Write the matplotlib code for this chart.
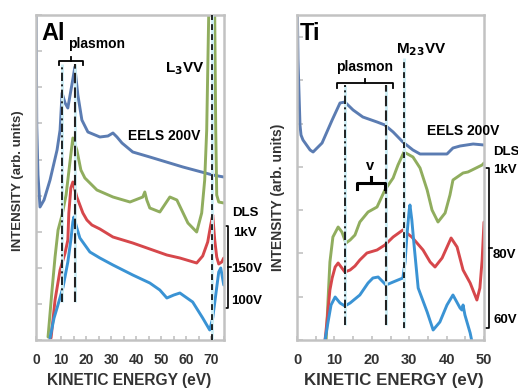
import matplotlib
matplotlib.use("Agg")
import matplotlib.pyplot as plt
import numpy as np

# ---------------- data ----------------
# Al panel
al_eels_E = [0.05, 0.3, 0.8, 1.6, 3.2, 5.6, 8.4, 9.6, 10.4, 11.6, 12.7, 14.3, 15.5, 16.7, 18.3,
             20.7, 25.5, 28.7, 30.7, 32.3, 34.3, 38.6, 45.4, 58.6, 70.5, 74.9]
al_eels_I = [345, 215, 165, 133, 140, 160, 190, 210, 247, 237, 232, 255, 273, 245, 220,
             208, 203, 204, 207, 203, 197, 188, 183, 173, 165, 163]

al_1kv_E = [4.8, 6.4, 7.6, 8.8, 10.4, 12.0, 13.5, 14.7, 16.3, 17.9, 19.5, 24.3, 30.7, 37.5,
            42.6, 43.4, 44.2, 45.4, 49.4, 53.4, 56.2, 60.6, 64.1, 66.1, 67.3, 68.1, 68.9,
            69.3, 70.9, 71.3, 71.7, 72.1, 72.9, 74.9]
al_1kv_I = [3, 50, 83, 110, 125, 145, 177, 202, 190, 170, 162, 150, 143, 138,
            143, 148, 140, 132, 128, 143, 140, 117, 108, 127, 160, 210, 325,
            360, 360, 325, 210, 145, 138, 137]

al_150_E = [6.0, 7.6, 9.6, 11.6, 12.7, 13.1, 13.9, 14.7, 16.3, 18.7, 20.3, 22.3, 25.5, 30.7,
            38.6, 45.4, 52.2, 57.4, 64.1, 66.5, 68.5, 69.7, 70.5, 71.3, 72.1, 72.9, 74.1, 74.9]
al_150_I = [2, 40, 70, 87, 100, 127, 152, 158, 143, 127, 120, 115, 111, 103,
            97, 91, 85, 82, 77, 84, 98, 115, 125, 100, 83, 76, 78, 82]

al_100_E = [5.6, 7.2, 8.4, 10.8, 12.7, 13.9, 14.7, 15.1, 16.3, 17.5, 21.5, 25.5, 30.7, 38.6,
            45.4, 49.4, 52.2, 55.0, 57.4, 62.5, 66.5, 69.3, 70.5, 71.7, 72.9, 73.7, 74.9]
al_100_I = [2, 22, 32, 53, 78, 100, 118, 123, 112, 102, 88, 82, 75, 65,
            57, 50, 42, 45, 47, 38, 22, 10, 22, 45, 68, 72, 55]

# Ti panel
ti_eels_E = [0.05, 0.27, 0.8, 1.07, 1.6, 3.5, 4.3, 6.7, 9.4, 11.5, 12.8, 15.0, 17.6, 21.4,
             23.5, 25.7, 28.3, 31.0, 32.9, 36.4, 40.1, 41.7, 43.6, 47.1, 50.0]
ti_eels_I = [345, 280, 215, 205, 200, 190, 188, 197, 220, 237, 238, 230, 223, 218,
             215, 208, 198, 190, 186, 186, 186, 192, 194, 196, 195]

ti_1kv_E = [7.8, 8.3, 8.8, 9.6, 11.0, 12.0, 13.1, 14.2, 15.5, 16.8, 19.0, 21.4, 23.5, 25.7,
            27.0, 28.6, 31.0, 32.9, 34.8, 36.1, 37.7, 39.6, 40.9, 41.7, 44.4, 45.7, 46.8,
            49.5, 50.0]
ti_1kv_I = [0, 40, 78, 103, 113, 108, 97, 100, 105, 118, 128, 133, 150, 162,
            175, 188, 183, 172, 150, 130, 118, 127, 145, 160, 167, 168, 170,
            175, 177]

ti_80_E = [7.5, 8.0, 8.8, 9.4, 10.2, 11.0, 12.0, 12.8, 14.2, 15.5, 16.8, 18.7, 21.4, 23.5,
           25.7, 28.3, 30.7, 33.7, 35.6, 36.9, 38.8, 41.2, 42.8, 44.4, 46.3, 48.1, 48.9,
           49.5, 50.0]
ti_80_I = [0, 18, 50, 62, 73, 77, 72, 68, 70, 74, 80, 87, 90, 95,
           103, 110, 103, 90, 78, 73, 82, 102, 93, 70, 57, 40, 52,
           80, 118]

ti_60_E = [7.5, 8.3, 9.1, 10.2, 11.5, 12.8, 14.2, 16.8, 19.0, 20.3, 21.7, 23.8, 25.7, 28.3,
           28.9, 29.4, 30.0, 30.2, 30.7, 31.3, 32.4, 34.8, 36.4, 38.2, 40.1, 41.7, 43.6,
           44.1, 44.4, 44.9, 46.3, 46.8]
ti_60_I = [0, 18, 35, 43, 37, 34, 37, 45, 57, 62, 63, 55, 58, 62,
           78, 105, 130, 135, 120, 95, 52, 28, 10, 18, 35, 45, 32,
           30, 35, 25, 7, -2]

al_xticks = [0, 10, 20, 30, 40, 50, 60, 70]
ti_xticks = [0, 10, 20, 30, 40, 50]

# reference lines (eV)
al_plasmon_lines = [10.4, 15.5]
al_l3vv = 70.1
ti_plasmon_lines = [12.8, 23.8]
ti_m23vv = 28.6

# ---------------- styles ----------------
C_EELS = "#5b7cb2"
C_GREEN = "#90ad5e"
C_RED = "#d6474b"
C_BLUE = "#3a93d4"
SPINE = "#c2c2c2"
TXT = "#333333"
FONT = "Liberation Sans"

plt.rcParams['font.family'] = [FONT, 'DejaVu Sans']
plt.rcParams['font.weight'] = 'bold'
plt.rcParams['mathtext.default'] = 'bf'

W, H = 518, 390
fig = plt.figure(figsize=(W / 100, H / 100), dpi=100)
fig.patch.set_facecolor("white")


def fx(px):
    return px / W


def fy(py):
    return 1 - py / H


ax1 = fig.add_axes([fx(36), fy(340), fx(224) - fx(36), fy(15) - fy(340)])
ax2 = fig.add_axes([fx(297), fy(340), fx(484) - fx(297), fy(15) - fy(340)])


def style(ax, xmax, xticks, ystep, tsize):
    ax.set_xlim(0, xmax)
    ax.set_ylim(0, 325)
    for s in ax.spines.values():
        s.set_color(SPINE)
        s.set_linewidth(1.8)
    ax.set_xticks(xticks)
    ax.set_xticklabels([str(t) for t in xticks], fontsize=tsize, fontweight='bold', color=TXT)
    ax.set_xticks(np.arange(0, xmax + 0.01, 5), minor=True)
    ax.set_yticks(np.arange(0, 325, ystep))
    ax.set_yticklabels([])
    ax.tick_params(axis='both', which='both', direction='in', color=SPINE, width=1.2, length=3)
    ax.tick_params(axis='x', which='major', pad=9)
    ax.tick_params(axis='y', length=4)


style(ax1, 75, al_xticks, 36.1, 10)
style(ax2, 50, ti_xticks, 43.3, 10.5)

lw = 2.1
kw = dict(lw=lw, solid_joinstyle='round', solid_capstyle='round')
ax1.plot(al_eels_E, al_eels_I, color=C_EELS, **kw)
ax1.plot(al_1kv_E, al_1kv_I, color=C_GREEN, **kw)
ax1.plot(al_150_E, al_150_I, color=C_RED, **kw)
ax1.plot(al_100_E, al_100_I, color=C_BLUE, **kw)

ax2.plot(ti_eels_E, ti_eels_I, color=C_EELS, **kw)
ax2.plot(ti_1kv_E, ti_1kv_I, color=C_GREEN, **kw)
ax2.plot(ti_80_E, ti_80_I, color=C_RED, **kw)
ax2.plot(ti_60_E, ti_60_I, color=C_BLUE, **kw)


def vline(ax, x, y0, y1, style, lwid):
    ax.plot([x, x], [y0, y1], color="#cdeef5", lw=2.0, zorder=4, solid_capstyle='butt')
    if style == 'dashdot':
        ax.plot([x, x], [y0, y1], color="black", lw=lwid, zorder=5, dashes=(5, 2, 1.2, 2))
    elif style == 'long':
        ax.plot([x, x], [y0, y1], color="#222222", lw=lwid, zorder=5, dashes=(5, 2))
    else:
        ax.plot([x, x], [y0, y1], color="black", lw=lwid, zorder=5, dashes=(3.5, 2.5))


vline(ax1, al_plasmon_lines[0], 38, 276, 'dashdot', 1.2)
vline(ax1, al_plasmon_lines[1], 38, 276, 'long', 1.5)
vline(ax1, al_l3vv, 0, 325, 'short', 1.2)

vline(ax2, ti_plasmon_lines[0], 15, 255, 'dashdot', 1.2)
vline(ax2, ti_plasmon_lines[1], 15, 255, 'long', 1.5)
vline(ax2, ti_m23vv, 12, 282, 'short', 1.2)


def hbracket(ax, x0, x1, y, drop, rise, lwid=1.3):
    xm = (x0 + x1) / 2
    ax.plot([x0, x0, x1, x1], [y - drop, y, y, y - drop], color="black", lw=lwid,
            clip_on=False, zorder=6, solid_joinstyle='round')
    ax.plot([xm, xm], [y, y + rise], color="black", lw=lwid, clip_on=False, zorder=6)


hbracket(ax1, 9.2, 18.7, 279, 4, 4)
hbracket(ax2, 10.7, 25.7, 257, 5, 4)
hbracket(ax2, 16.0, 23.5, 157, 6, 6, lwid=2.2)


def vbracket(ax, x, xtick, xmid, y0, y1, ymid):
    ax.plot([xtick, x, x, xtick], [y1, y1, y0, y0], color="black", lw=1.2, clip_on=False)
    ax.plot([x, xmid], [ymid, ymid], color="black", lw=1.2, clip_on=False)


vbracket(ax1, 76.5, 75.7, 77.7, 32, 114, 73)
vbracket(ax2, 51.3, 50.5, 52.1, 12, 172, 92)


# ---------------- texts ----------------
def t(px, py, s, size, ha='center', va='center', color='black', rot=0):
    fig.text(fx(px), fy(py), s, fontsize=size, fontweight='bold', ha=ha, va=va,
             color=color, rotation=rot)


t(41, 33, "Al", 17, ha='left')
t(97, 44, "plasmon", 10)
t(185, 69, "L$_\\mathbf{3}$VV", 11)
t(164, 136, "EELS 200V", 10)
t(232, 213, "DLS", 9.5, ha='left')
t(233, 233, "1kV", 9.5, ha='left')
t(231, 269, "150V", 9.5, ha='left')
t(231, 301, "100V", 9.5, ha='left')

t(300, 33, "Ti", 17, ha='left')
t(365, 67, "plasmon", 10)
t(421, 50, "M$_\\mathbf{23}$VV", 11)
t(463, 131, "EELS 200V", 10)
t(370, 166, "v", 10.5)
t(493, 152, "DLS", 9.5, ha='left')
t(493, 170, "1kV", 9.5, ha='left')
t(493, 255, "80V", 9.5, ha='left')
t(493, 320, "60V", 9.5, ha='left')

t(129, 381, "KINETIC ENERGY (eV)", 11.2, color=TXT)
t(394, 381, "KINETIC ENERGY (eV)", 12.2, color=TXT)
t(18, 181, "INTENSITY (arb. units)", 9.5, color=TXT, rot=90)
t(278, 197, "INTENSITY (arb. units)", 10, color=TXT, rot=90)

fig.savefig("out.png", dpi=100, facecolor="white")
